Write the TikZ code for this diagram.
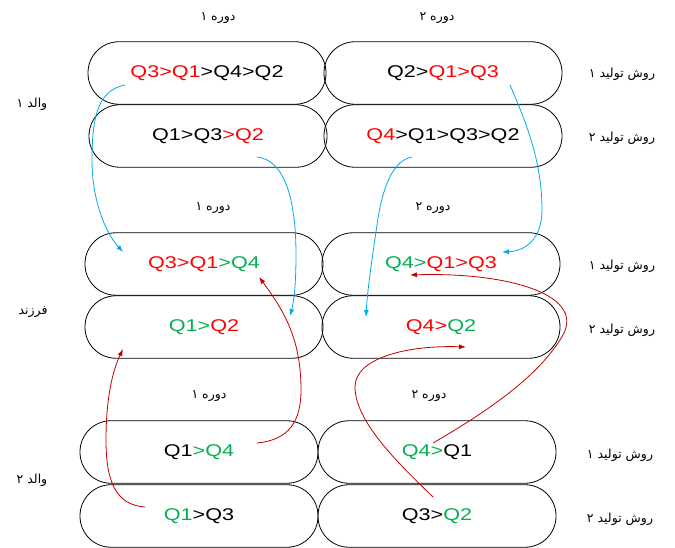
\documentclass[tikz,border=0pt]{standalone}
\usepackage{fontspec}
\usetikzlibrary{arrows.meta}
\TeXXeTstate=1
\newfontfamily\lat[FakeStretch=1.27]{Liberation Sans}
\newfontfamily\fa[Script=Arabic]{DejaVu Sans}
\definecolor{qred}{RGB}{255,0,0}
\definecolor{qgreen}{RGB}{0,176,80}
\definecolor{arrblue}{RGB}{0,170,235}
\definecolor{arrred}{RGB}{192,0,0}
\newcommand{\R}[1]{\textcolor{qred}{#1}}
\newcommand{\G}[1]{\textcolor{qgreen}{#1}}
\begin{document}
\begin{tikzpicture}[x=1pt,y=-1pt,
  stad/.style={draw=black, line width=0.8pt, rounded corners=31pt, minimum width=238pt, minimum height=62.5pt, inner sep=0pt, font=\lat\fontsize{17}{20}\selectfont},
  falab/.style={font=\fa\fontsize{12.5}{15}\selectfont, inner sep=0pt},
  barr/.style={draw=arrblue, line width=0.8pt, -{Latex[length=7pt,width=5pt]}},
  rarr/.style={draw=arrred, line width=0.8pt, -{Latex[length=7pt,width=5pt]}}
]
\useasboundingbox (0,0) rectangle (675,548);
% top block (parent 1)
\node[stad] (a11) at (207,73) {\R{Q3>Q1}>Q4>Q2};
\node[stad] (a12) at (443,73) {Q2>\R{Q1>Q3}};
\node[stad] (a21) at (208,136) {Q1>Q3\R{>Q2}};
\node[stad] (a22) at (443,136) {\R{Q4}>Q1>Q3>Q2};
% middle block (child)
\node[stad] (c11) at (204,264) {\R{Q3>Q1}\G{>Q4}};
\node[stad] (c12) at (441,264) {\G{Q4>}\R{Q1>Q3}};
\node[stad] (c21) at (204,327) {\G{Q1>}\R{Q2}};
\node[stad] (c22) at (441,327) {\R{Q4>}\G{Q2}};
% bottom block (parent 2)
\node[stad] (b11) at (199,452) {Q1\G{>Q4}};
\node[stad] (b12) at (437,452) {\G{Q4>}Q1};
\node[stad] (b21) at (199,516) {\G{Q1}>Q3};
\node[stad] (b22) at (437,516) {Q3>\G{Q2}};
% period labels
\node[falab] (p1a) at (218,18) {\beginR دوره ۱\endR};
\node[falab] (p2a) at (437,18) {\beginR دوره ۲\endR};
\node[falab] (p1c) at (213,208) {\beginR دوره ۱\endR};
\node[falab] (p2c) at (433,208) {\beginR دوره ۲\endR};
\node[falab] (p1b) at (209,396) {\beginR دوره ۱\endR};
\node[falab] (p2b) at (429,396) {\beginR دوره ۲\endR};
% method labels
\node[falab] (m1a) at (622,74) {\beginR روش تولید ۱\endR};
\node[falab] (m2a) at (622,138) {\beginR روش تولید ۲\endR};
\node[falab] (m1c) at (622,266) {\beginR روش تولید ۱\endR};
\node[falab] (m2c) at (622,330) {\beginR روش تولید ۲\endR};
\node[falab] (m1b) at (620,455) {\beginR روش تولید ۱\endR};
\node[falab] (m2b) at (620,519) {\beginR روش تولید ۲\endR};
% side labels
\node[falab] (l1) at (32,104) {\beginR والد ۱\endR};
\node[falab] (l2) at (33,312) {\beginR فرزند\endR};
\node[falab] (l3) at (32,480) {\beginR والد ۲\endR};
% connector end points
\coordinate (s1) at (125,85);  \coordinate (e1) at (123,252);
\coordinate (s2) at (257,157); \coordinate (e2) at (290,316);
\coordinate (s3) at (412,157); \coordinate (e3) at (366,317);
\coordinate (s4) at (510,85);  \coordinate (e4) at (502,252);
\coordinate (s5) at (257,443); \coordinate (e5) at (259,277);
\coordinate (s6) at (145,507); \coordinate (e6) at (123,349);
\coordinate (s7) at (433,443); \coordinate (e7) at (410,275);
\coordinate (s8) at (433,497); \coordinate (e8) at (466,347);
% blue arrows
\draw[barr] (s1) .. controls (100,90) and (92,112) .. (92,160) .. controls (92,200) and (105,232) .. (e1);
\draw[barr] (s2) .. controls (285,160) and (296,200) .. (296,255) .. controls (296,290) and (293,305) .. (e2);
\draw[barr] (s3) .. controls (395,160) and (383,182) .. (377,225) .. controls (371,265) and (367,295) .. (e3);
\draw[barr] (s4) .. controls (525,120) and (542,160) .. (542,210) .. controls (542,237) and (527,251) .. (e4);
% red arrows
\draw[rarr] (s5) .. controls (290,440) and (301,420) .. (301,390) .. controls (301,340) and (285,312) .. (e5);
\draw[rarr] (s6) .. controls (115,505) and (106,480) .. (106,440) .. controls (106,400) and (112,372) .. (e6);
\draw[rarr] (s7) .. controls (490,410) and (540,375) .. (563,335) .. controls (586,292) and (500,272) .. (e7);
\draw[rarr] (s8) .. controls (400,465) and (355,422) .. (355,387) .. controls (355,357) and (410,345) .. (e8);
\end{tikzpicture}
\end{document}
